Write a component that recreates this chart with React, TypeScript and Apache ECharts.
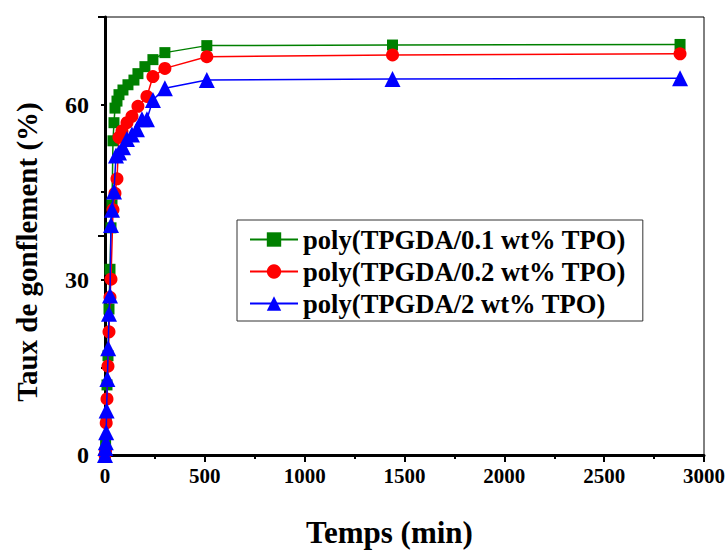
import React, { useEffect, useRef } from "react";
import * as echarts from "echarts";

const seriesNames = [
  "poly(TPGDA/0.1 wt% TPO)",
  "poly(TPGDA/0.2 wt% TPO)",
  "poly(TPGDA/2 wt% TPO)",
];

const greenTimes = [0, 3, 6, 10, 15, 20, 25, 30, 35, 40, 45, 50, 60, 70, 90, 115, 145, 165, 200, 240, 300, 510, 1440, 2880];
const greenValues = [0, 2, 6, 12, 17, 25, 31.8, 38.9, 42.8, 53.8, 56.9, 59.4, 60.6, 61.7, 62.5, 63.4, 64.2, 65.3, 66.5, 67.7, 68.9, 70.1, 70.2, 70.3];

const redTimes = [0, 3, 6, 10, 15, 20, 25, 30, 40, 50, 60, 70, 85, 110, 135, 165, 210, 240, 300, 510, 1440, 2880];
const redValues = [0, 0.8, 5.5, 9.6, 15.2, 21.1, 27, 30.1, 42, 44.8, 47.3, 54.4, 55.5, 56.9, 58, 59.7, 61.4, 64.8, 66.2, 68.2, 68.5, 68.7];

const blueTimes = [0, 2, 4, 6, 8, 12, 16, 20, 25, 30, 35, 45, 55, 70, 90, 110, 135, 160, 185, 210, 240, 300, 510, 1440, 2880];
const blueValues = [0, 1.2, 2.2, 3.9, 7.6, 13, 18.3, 24.2, 27.3, 39.4, 42, 45.1, 51.3, 51.8, 52.7, 54.1, 54.9, 55.8, 57.5, 57.5, 60.8, 62.8, 64.2, 64.4, 64.5];

const colors = ["#008000", "#ff0000", "#0000ff"];
const symbols = ["rect", "circle", "triangle"];
const symbolSizes = [11, 13, 16];

const xTitle = "Temps (min)";
const yTitle = "Taux de gonflement (%)";

const FONT = "Liberation Serif";

function pairs(t: number[], v: number[]) {
  return t.map((x, i) => [x, v[i]]);
}

export default function App() {
  const ref = useRef<HTMLDivElement>(null);
  useEffect(() => {
    if (!ref.current) return;
    const chart = echarts.init(ref.current, null, { renderer: "svg" });
    const data = [
      pairs(greenTimes, greenValues),
      pairs(redTimes, redValues),
      pairs(blueTimes, blueValues),
    ];
    chart.setOption({
      animation: false,
      backgroundColor: "#fff",
      textStyle: { fontFamily: FONT },
      grid: {
        left: 105,
        right: 23,
        top: 17,
        bottom: 93,
        show: true,
        borderColor: "#000",
        borderWidth: 1,
      },
      graphic: [
        {
          type: "text",
          x: 27,
          y: 252,
          rotation: Math.PI / 2,
          style: {
            text: yTitle,
            fontFamily: FONT,
            fontWeight: "bold",
            fontSize: 29,
            fill: "#000",
            align: "center",
            verticalAlign: "middle",
          },
        },
      ],
      legend: {
        orient: "vertical",
        left: 237,
        top: 220,
        padding: [6, 17, 4, 12],
        itemWidth: 48,
        itemHeight: 18,
        itemGap: 5,
        borderColor: "#333",
        borderWidth: 1,
        backgroundColor: "#fff",
        textStyle: {
          fontFamily: FONT,
          fontWeight: "bold",
          fontSize: 26.6,
          color: "#000",
        },
        data: seriesNames,
      },
      xAxis: {
        type: "value",
        min: 0,
        max: 3000,
        interval: 500,
        name: xTitle,
        nameLocation: "middle",
        nameGap: 62,
        nameTextStyle: {
          fontFamily: FONT,
          fontWeight: "bold",
          fontSize: 31,
          color: "#000",
          padding: [0, 30, 0, 0],
        },
        axisLine: { lineStyle: { color: "#000", width: 3 } },
        axisTick: { length: 7, lineStyle: { color: "#000", width: 2 } },
        minorTick: { show: true, splitNumber: 2, length: 4, lineStyle: { color: "#000", width: 2 } },
        splitLine: { show: false },
        axisLabel: {
          fontFamily: FONT,
          fontWeight: "bold",
          fontSize: 21,
          color: "#000",
          margin: 10,
          formatter: (v: number) => String(v),
        },
      },
      yAxis: [
        {
          type: "value",
          min: 0,
          max: 75,
          interval: 15,
          axisLine: { lineStyle: { color: "#000", width: 3 } },
          axisTick: { length: 4, lineStyle: { color: "#000", width: 2 } },
          splitLine: { show: false },
          axisLabel: {
            fontFamily: FONT,
            fontWeight: "bold",
            fontSize: 24,
            color: "#000",
            margin: 16,
            formatter: (v: number) => (v % 30 === 0 ? String(v) : ""),
          },
        },
        {
          type: "value",
          min: 0,
          max: 60,
          interval: 30,
          position: "left",
          axisLine: { show: false },
          axisTick: { show: true, length: 7, lineStyle: { color: "#000", width: 2 } },
          axisLabel: { show: false },
          splitLine: { show: false },
        },
      ],
      series: data.map((d, i) => ({
        name: seriesNames[i],
        type: "line",
        data: d,
        yAxisIndex: 0,
        symbol: symbols[i],
        symbolSize: symbolSizes[i],
        showAllSymbol: true,
        itemStyle: { color: colors[i] },
        lineStyle: { color: colors[i], width: 1.5 },
        z: 2 + i,
      })),
    });
    return () => chart.dispose();
  }, []);
  return (
    <div
      ref={ref}
      style={{ position: "fixed", left: 0, top: 0, width: 728, height: 553 }}
    />
  );
}
